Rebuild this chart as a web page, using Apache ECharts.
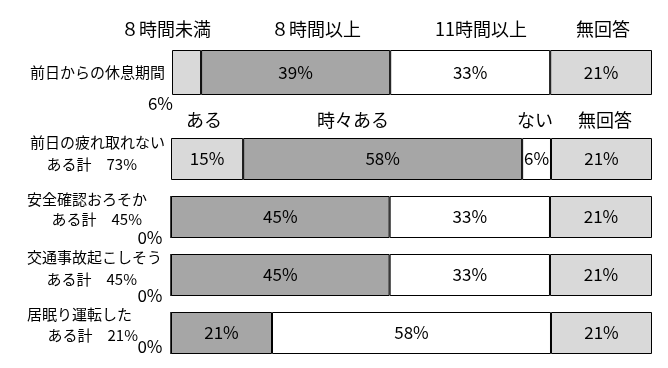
<!DOCTYPE html>
<html>
<head>
<meta charset="utf-8">
<script src="https://cdn.jsdelivr.net/npm/echarts@6/dist/echarts.min.js"></script>
<style>
html,body{margin:0;padding:0;background:#fff;}
#c{width:668px;height:368px;}
</style>
</head>
<body>
<div id="c"></div>
<script>
// ---- data ----
const rowTitles = ['前日からの休息期間', '前日の疲れ取れない', '安全確認おろそか', '交通事故起こしそう', '居眠り運転した'];
const rowSubtitles = ['', 'ある計　73%', 'ある計　45%', 'ある計　45%', 'ある計　21%'];
const restHeaders = ['８時間未満', '８時間以上', '11時間以上', '無回答'];
const freqHeaders = ['ある', '時々ある', 'ない', '無回答'];
const restValues = [6, 39, 33, 21];
const fatigueValues = [15, 58, 6, 21];
const safetyValues = [0, 45, 33, 21];
const accidentValues = [0, 45, 33, 21];
const dozingValues = [0, 21, 58, 21];
const rowsData = [restValues, fatigueValues, safetyValues, accidentValues, dozingValues];

// ---- layout / styles ----
const FONT = '"Noto Sans CJK JP", "Noto Sans", sans-serif';
const segColors = ['#d9d9d9', '#a6a6a6', '#ffffff', '#d9d9d9'];
const gridBoxes = [
  {left: 172, top: 50, width: 480, height: 45},
  {left: 171, top: 138, width: 481, height: 42},
  {left: 171, top: 196, width: 481, height: 42},
  {left: 171, top: 254, width: 481, height: 42},
  {left: 171, top: 312, width: 481, height: 42}
];
// special outside label placement for first segment of some rows
const firstLabelPos = [[1, 54], null, [-8, 42], [-8, 42], [-8, 35]];

const chart = echarts.init(document.getElementById('c'), null, {renderer: 'canvas'});

const grids = [], xAxes = [], yAxes = [], series = [];
rowsData.forEach((vals, i) => {
  const g = gridBoxes[i];
  grids.push({left: g.left, top: g.top, width: g.width, height: g.height, containLabel: false});
  const total = vals.reduce((a, b) => a + b, 0);
  xAxes.push({gridIndex: i, type: 'value', min: 0, max: total, show: false});
  yAxes.push({gridIndex: i, type: 'category', data: [''], show: false});
  vals.forEach((v, j) => {
    let item = v;
    if (j === 0 && firstLabelPos[i]) {
      item = {value: v, label: {position: firstLabelPos[i], align: 'right', verticalAlign: 'middle'}};
    }
    series.push({
      type: 'bar',
      xAxisIndex: i,
      yAxisIndex: i,
      stack: 'row' + i,
      barWidth: '100%',
      data: [item],
      itemStyle: {color: segColors[j], borderColor: '#000', borderWidth: 1},
      label: {
        show: true,
        position: 'inside',
        formatter: '{c}%',
        color: '#000',
        fontSize: 17,
        fontFamily: FONT
      },
      emphasis: {disabled: true},
      silent: true
    });
  });
});

function txt(text, x, y, size, align) {
  return {
    type: 'text',
    x: x, y: y,
    style: {text: text, fill: '#000', font: size + 'px ' + FONT, textAlign: align || 'left', textVerticalAlign: 'middle'}
  };
}

const graphics = [];
// headers row 1
const restHeaderX = [166, 316, 481, 603];
restHeaders.forEach((h, k) => graphics.push(txt(h, restHeaderX[k], 29, 18, 'center')));
// headers row 2
const freqHeaderX = [204, 353, 535, 605];
freqHeaders.forEach((h, k) => graphics.push(txt(h, freqHeaderX[k], 120, 18, 'center')));
// row titles
const titlePos = [[30, 72], [30, 142], [27, 199], [27, 257], [27, 314]];
rowTitles.forEach((t, i) => graphics.push(txt(t, titlePos[i][0], titlePos[i][1], 15, 'left')));
const subPos = [null, [137, 164], [142, 219], [137, 279], [138, 335]];
rowSubtitles.forEach((t, i) => { if (t) graphics.push(txt(t, subPos[i][0], subPos[i][1], 15, 'right')); });

chart.setOption({
  animation: false,
  backgroundColor: '#ffffff',
  grid: grids,
  xAxis: xAxes,
  yAxis: yAxes,
  series: series,
  graphic: graphics
});
</script>
</body>
</html>
